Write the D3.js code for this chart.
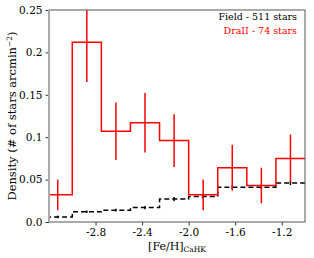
<!DOCTYPE html>
<html>
<head>
<meta charset="utf-8">
<script src="https://cdn.jsdelivr.net/npm/d3@7"></script>
<style>
  body { margin: 0; background: #fff; }
  svg { display: block; font-family: "DejaVu Serif", serif; }
</style>
</head>
<body>
<svg></svg>
<script>
// bins in [Fe/H]_CaHK, width 0.25
const binEdges = [-3.25, -3.0, -2.75, -2.5, -2.25, -2.0, -1.75, -1.5, -1.25, -1.0];
const draDensity = [0.032, 0.212, 0.107, 0.117, 0.096, 0.032, 0.064, 0.043, 0.075];
const draError   = [0.018, 0.047, 0.034, 0.035, 0.031, 0.018, 0.027, 0.021, 0.028];
const fieldDensity = [0.006, 0.012, 0.014, 0.017, 0.027, 0.030, 0.041, 0.041, 0.046];
const fieldError   = [0.0015, 0.0015, 0.0015, 0.002, 0.0025, 0.0025, 0.0025, 0.0025, 0.0025];
const xTicks = [-2.8, -2.4, -2.0, -1.6, -1.2];
const yTicks = [0, 0.05, 0.1, 0.15, 0.2, 0.25];
const yTickLabels = ["0.0", "0.05", "0.1", "0.15", "0.2", "0.25"];
const legendLabels = ["Field - 511 stars", "DraII - 74 stars"];

const margin = {top: 10, right: 9, bottom: 36, left: 49};
const width = 314 - margin.left - margin.right;
const height = 258 - margin.top - margin.bottom;

const svg = d3.select("svg")
    .attr("width", 314)
    .attr("height", 258);

const g = svg.append("g")
    .attr("transform", "translate(" + margin.left + "," + margin.top + ")");

const x = d3.scaleLinear().domain([-3.2, -1.0]).range([0, width]);
const y = d3.scaleLinear().domain([0, 0.25]).range([height, 0]);

svg.append("defs").append("clipPath").attr("id", "clip")
  .append("rect").attr("width", width).attr("height", height);

const plot = g.append("g").attr("clip-path", "url(#clip)");

// step outline of a histogram (no drop at the right end, it sits on the spine)
const stepPath = function(vals) {
  let pts = [[x(binEdges[0]), y(0)]];
  vals.forEach((v, i) => {
    pts.push([x(binEdges[i]), y(v)]);
    pts.push([x(binEdges[i + 1]), y(v)]);
  });
  return d3.line()(pts);
};
const centers = binEdges.slice(0, -1).map((e, i) => (e + binEdges[i + 1]) / 2);

const drawHist = function(vals, errs, color, dash) {
  plot.append("path")
    .attr("d", stepPath(vals))
    .attr("fill", "none")
    .attr("stroke", color)
    .attr("stroke-width", 1.5)
    .attr("stroke-dasharray", dash);
  plot.selectAll(null)
      .data(vals)
    .enter().append("line")
      .attr("x1", (d, i) => x(centers[i]))
      .attr("x2", (d, i) => x(centers[i]))
      .attr("y1", (d, i) => y(d - errs[i]))
      .attr("y2", (d, i) => y(d + errs[i]))
      .attr("stroke", color)
      .attr("stroke-width", 1.5);
};

drawHist(fieldDensity, fieldError, "#000", "5,3");
drawHist(draDensity, draError, "#ff0000", null);

// axes
const yAxis = g.append("g")
    .call(d3.axisLeft(y).tickValues(yTicks).tickFormat((d, i) => yTickLabels[i]).tickSize(3.5).tickPadding(3));
const xAxis = g.append("g")
    .attr("transform", "translate(0," + height + ")")
    .call(d3.axisBottom(x).tickValues(xTicks).tickFormat(d3.format(".1f")).tickSize(3.5).tickPadding(3));
[xAxis, yAxis].forEach(a => {
  a.select(".domain").remove();
  a.selectAll("text").attr("font-family", "DejaVu Serif").attr("font-size", 10.5).attr("fill", "#000");
  a.selectAll("line").attr("stroke", "#000").attr("stroke-width", 0.8);
});
xAxis.selectAll("text").text(d => d3.format(".1f")(d).replace("−", "-"));

// frame
g.append("rect")
    .attr("width", width).attr("height", height)
    .attr("fill", "none").attr("stroke", "#555").attr("stroke-width", 1);
g.append("line")
    .attr("x1", 0).attr("x2", 0).attr("y1", 0).attr("y2", height)
    .attr("stroke", "#aaa").attr("stroke-width", 2);

// legend text
g.selectAll(".leg")
    .data(legendLabels)
  .enter().append("text")
    .attr("x", width - 8)
    .attr("y", (d, i) => 10 + i * 14)
    .attr("text-anchor", "end")
    .attr("font-size", 9.5)
    .attr("fill", (d, i) => i === 0 ? "#000" : "#ff0000")
    .text(d => d);

// axis labels
const xl = svg.append("text")
    .attr("x", margin.left + width / 2)
    .attr("y", 250)
    .attr("text-anchor", "middle")
    .attr("font-size", 11);
xl.append("tspan").text("[Fe/H]");
xl.append("tspan").attr("font-size", 7.5).attr("dy", 2).text("CaHK");

const yl = svg.append("text")
    .attr("transform", "translate(16," + (margin.top + height / 2) + ") rotate(-90)")
    .attr("text-anchor", "middle")
    .attr("font-size", 11.5);
yl.append("tspan").text("Density (# of stars arcmin");
yl.append("tspan").attr("font-size", 7.5).attr("dy", -4).text("−2");
yl.append("tspan").attr("dy", 4).text(")");
</script>
</body>
</html>
